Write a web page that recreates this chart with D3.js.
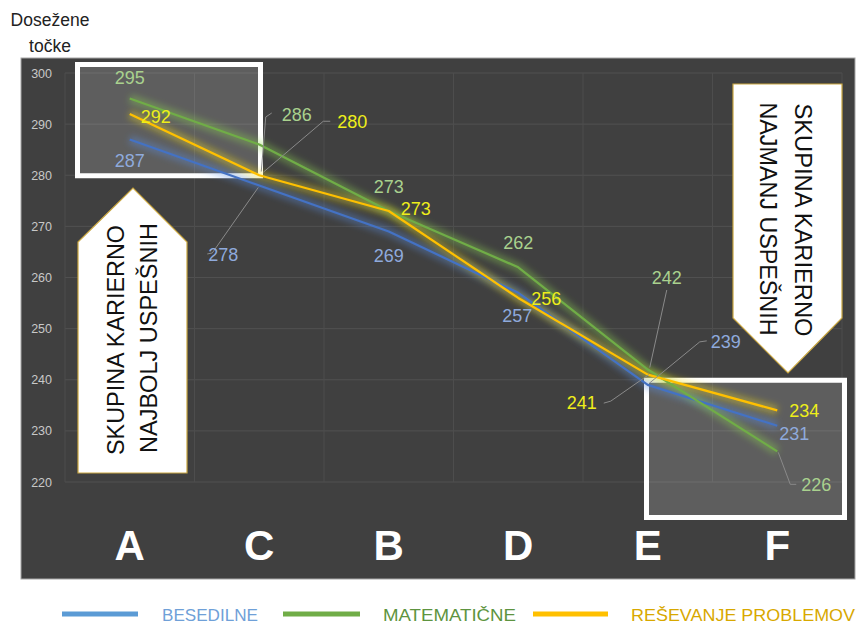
<!DOCTYPE html>
<html>
<head>
<meta charset="utf-8">
<script src="https://cdn.jsdelivr.net/npm/d3@7"></script>
<style>
  html, body { margin: 0; padding: 0; background: #ffffff; }
  svg { display: block; font-family: "Liberation Sans", Arial, sans-serif; }
</style>
</head>
<body>
<svg id="chart" width="857" height="623"></svg>
<script>
// ---- data ----
const categories = ["A", "C", "B", "D", "E", "F"];
const besedilne = [287, 278, 269, 257, 239, 231];
const matematicne = [295, 286, 273, 262, 242, 226];
const resevanje = [292, 280, 273, 256, 241, 234];
const seriesNames = ["BESEDILNE", "MATEMATIČNE", "REŠEVANJE PROBLEMOV"];
const yTicks = [220, 230, 240, 250, 260, 270, 280, 290, 300];
const axisTitle = ["Dosežene", "točke"];
const topArrowText = ["SKUPINA KARIERNO", "NAJBOLJ USPEŠNIH"];
const bottomArrowText = ["SKUPINA KARIERNO", "NAJMANJ USPEŠNIH"];

// ---- styles / layout ----
const lineColors = ["#4472c4", "#70ad47", "#ffc000"];
const glowColors = ["#5b8fe0", "#8fd14f", "#f5e020"];
const labelColors = ["#8faadc", "#a9d18e", "#eeee1a"];
const legendText = ["#6fa0d8", "#5e9440", "#d8a800"];
const legendLine = ["#5b9bd5", "#70ad47", "#ffc000"];

// label offsets (dx, dy from point to label centre) and leader lines
const labelOffsets = [
  // besedilne
  [{dx: 0, dy: 21.5}, {dx: -36, dy: 69.5, lead: [[-16,-1],[-11,-2],[-1,2]]}, {dx: 0, dy: 24.5}, {dx: -1, dy: 23.5},
   {dx: 78, dy: -43, lead: [[-19,-1],[-26,0],[2,-2]]}, {dx: 17, dy: 8}],
  // matematicne
  [{dx: 0, dy: -20.6}, {dx: 37.5, dy: -29.6, lead: [[-25,-2],[-31,2],[2,27]]}, {dx: 0, dy: -24}, {dx: 0, dy: -24},
   {dx: 19, dy: -91.5, lead: [[0,12],[2,-2]]}, {dx: 39, dy: 34, lead: [[-20,-1],[-26,-1],[1,1]]}],
  // resevanje
  [{dx: 26, dy: 3}, {dx: 93, dy: -53, lead: [[-22,-1],[-29,-1],[4,-3]]}, {dx: 27, dy: -2}, {dx: 28, dy: 1},
   {dx: -66, dy: 28.5, lead: [[22,0],[29,-2],[1,0]]}, {dx: 27, dy: 1}]
];

const svg = d3.select("#chart");

// filters
const defs = svg.append("defs");
const f = defs.append("filter").attr("id", "glow").attr("x", "-20%").attr("y", "-20%").attr("width", "140%").attr("height", "140%");
f.append("feGaussianBlur").attr("stdDeviation", 3.2);

// background panel
svg.append("rect").attr("x", 21).attr("y", 58).attr("width", 834).attr("height", 521)
  .attr("fill", "#404040").attr("stroke", "#a6a6a6").attr("stroke-width", 1);

// scales
const x = d3.scaleBand().domain(categories).range([65, 842]).padding(0);
const y = d3.scaleLinear().domain([220, 300]).range([482, 73]);
const cx = c => x(c) + x.bandwidth() / 2;

// grid
const grid = svg.append("g");
grid.selectAll("line.h").data(yTicks).join("line").attr("class", "h")
  .attr("x1", 65).attr("x2", 842).attr("y1", d => y(d)).attr("y2", d => y(d))
  .attr("stroke", "#505050").attr("stroke-width", 1);
const vlines = categories.map(c => x(c)).concat([x(categories[categories.length - 1]) + x.bandwidth()]);
grid.selectAll("line.v").data(vlines).join("line").attr("class", "v")
  .attr("x1", d => d).attr("x2", d => d).attr("y1", y(300)).attr("y2", y(220))
  .attr("stroke", "#4d4d4d").attr("stroke-width", 1);

// y axis
const yAxis = svg.append("g").attr("transform", "translate(65,0)")
  .call(d3.axisLeft(y).tickValues(yTicks).tickSize(0).tickPadding(13));
yAxis.select(".domain").remove();
yAxis.selectAll("text").attr("fill", "#c8c8c8").attr("font-size", 12.5)
  .attr("font-family", "'Liberation Sans', Arial, sans-serif");

// x category labels
svg.append("g").selectAll("text").data(categories).join("text")
  .attr("x", d => cx(d)).attr("y", 560).attr("text-anchor", "middle")
  .attr("fill", "#ffffff").attr("font-weight", "bold").attr("font-size", 42)
  .text(d => d);

// highlight boxes (behind lines)
const boxTL = {x0: x("A") + 10, x1: x("C") + 68.5, y0: y(300) - 11, y1: y(280) + 3};
const boxBR = {x0: x("E") + 61, x1: x("F") + 134.5, y0: y(240) - 2, y1: y(220) + 38};
[boxTL, boxBR].forEach(b => {
  svg.append("rect").attr("x", b.x0 + 2.5).attr("y", b.y0 + 2.5)
    .attr("width", b.x1 - b.x0 - 5).attr("height", b.y1 - b.y0 - 5)
    .attr("fill", "#ffffff").attr("fill-opacity", 0.16)
    .attr("stroke", "#ffffff").attr("stroke-width", 5);
});

// lines
const allSeries = [besedilne, matematicne, resevanje];
const line = d3.line().x((d, i) => cx(categories[i])).y(d => y(d));
const lg = svg.append("g");
allSeries.forEach((s, k) => {
  lg.append("path").datum(s).attr("d", line).attr("fill", "none")
    .attr("stroke", glowColors[k]).attr("stroke-width", 9).attr("stroke-opacity", 0.38)
    .attr("stroke-linejoin", "round").attr("filter", "url(#glow)");
});
allSeries.forEach((s, k) => {
  lg.append("path").datum(s).attr("d", line).attr("fill", "none")
    .attr("stroke", lineColors[k]).attr("stroke-width", 2.2).attr("stroke-linejoin", "round");
});

// arrows
const arrowUp = {x0: x("A") + 13, x1: x("A") + 122, tipX: x("A") + 68, tipY: 188, shoulder: 242, base: 473};
const arrowDown = {x0: x("F") + 20.5, x1: x("F") + 129.5, tipX: x("F") + 75.5, tipY: 373, shoulder: 318, top: 84};
svg.append("path")
  .attr("d", `M${arrowUp.x0},${arrowUp.base}L${arrowUp.x0},${arrowUp.shoulder}L${arrowUp.tipX},${arrowUp.tipY}L${arrowUp.x1},${arrowUp.shoulder}L${arrowUp.x1},${arrowUp.base}Z`)
  .attr("fill", "#ffffff").attr("stroke", "#c9a640").attr("stroke-width", 1.2);
svg.append("path")
  .attr("d", `M${arrowDown.x0},${arrowDown.top}L${arrowDown.x1},${arrowDown.top}L${arrowDown.x1},${arrowDown.shoulder}L${arrowDown.tipX},${arrowDown.tipY}L${arrowDown.x0},${arrowDown.shoulder}Z`)
  .attr("fill", "#ffffff").attr("stroke", "#c9a640").attr("stroke-width", 1.2);

const upPos = [[115, 340], [148, 338]];
topArrowText.forEach((t, i) => {
  svg.append("text").attr("transform", `translate(${upPos[i][0]},${upPos[i][1]}) rotate(-90)`)
    .attr("text-anchor", "middle").attr("dominant-baseline", "central")
    .attr("font-size", 24).attr("fill", "#111111")
    .attr("textLength", 230).attr("lengthAdjust", "spacingAndGlyphs").text(t);
});
const downPos = [[803, 220], [768, 219]];
bottomArrowText.forEach((t, i) => {
  svg.append("text").attr("transform", `translate(${downPos[i][0]},${downPos[i][1]}) rotate(90)`)
    .attr("text-anchor", "middle").attr("dominant-baseline", "central")
    .attr("font-size", 24).attr("fill", "#111111")
    .attr("textLength", 233).attr("lengthAdjust", "spacingAndGlyphs").text(t);
});

// data labels + leader lines
const labG = svg.append("g");
allSeries.forEach((s, k) => {
  s.forEach((v, i) => {
    const px = cx(categories[i]), py = y(v);
    const o = labelOffsets[k][i];
    const lx = px + o.dx, ly = py + o.dy;
    if (o.lead) {
      const pts = o.lead.slice(0, -1).map(p => [lx + p[0], ly + p[1]]);
      const end = o.lead[o.lead.length - 1];
      pts.push([px + end[0], py + end[1]]);
      labG.append("path").attr("d", d3.line()(pts)).attr("fill", "none")
        .attr("stroke", "#8a8a8a").attr("stroke-width", 1);
    }
    labG.append("text").attr("x", lx).attr("y", ly).attr("text-anchor", "middle")
      .attr("dominant-baseline", "central").attr("font-size", 18)
      .attr("fill", labelColors[k]).text(v);
  });
});

// axis title
axisTitle.forEach((t, i) => {
  svg.append("text").attr("x", 50).attr("y", 26 + i * 26).attr("text-anchor", "middle")
    .attr("font-size", 17.5).attr("fill", "#222222").text(t);
});

// legend
const legX = [[62, 138, 162, 96], [283, 360, 383, 133], [533, 608, 631, 224]];
seriesNames.forEach((n, k) => {
  svg.append("line").attr("x1", legX[k][0]).attr("x2", legX[k][1]).attr("y1", 614).attr("y2", 614)
    .attr("stroke", legendLine[k]).attr("stroke-width", 5);
  svg.append("text").attr("x", legX[k][2]).attr("y", 620.5).attr("font-size", 17)
    .attr("fill", legendText[k]).attr("textLength", legX[k][3]).attr("lengthAdjust", "spacingAndGlyphs").text(n);
});
</script>
</body>
</html>
